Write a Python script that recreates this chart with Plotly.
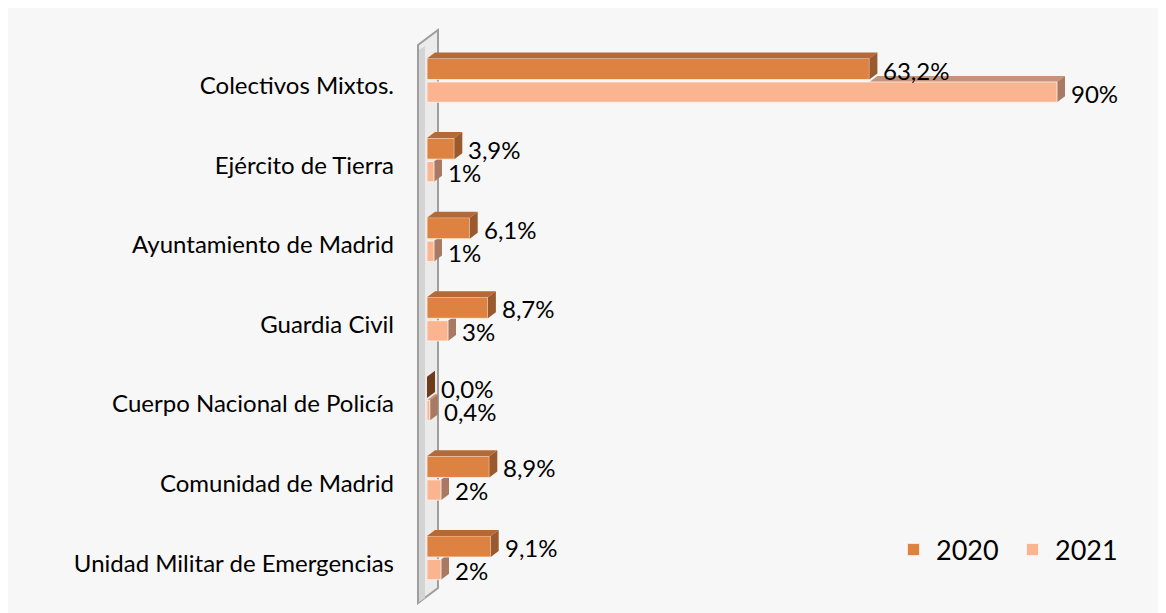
import plotly.graph_objects as go

categories = ["Colectivos Mixtos.", "Ejército de Tierra", "Ayuntamiento de Madrid",
              "Guardia Civil", "Cuerpo Nacional de Policía", "Comunidad de Madrid",
              "Unidad Militar de Emergencias"]
values_2020 = [63.2, 3.9, 6.1, 8.7, 0.0, 8.9, 9.1]
values_2021 = [90, 1, 1, 3, 0.4, 2, 2]
series_names = ["2020", "2021"]

# style / layout constants
W, H = 1166, 613
PAGE = 8                               # page margin of the html body
ML, MR, MT, MB = 419, 47, 33, 23
XMAX = 100
PX_X = (W - ML - MR) / XMAX          # pixels per x unit
PX_Y = (H - MT - MB) / 7              # pixels per category
DX = 8 / PX_X                          # 3D depth in x units
DY = 6 / PX_Y                          # 3D depth in y units
C20, C21 = "#DD8240", "#FBB490"
TOP20, SIDE20 = "#B46A36", "#9A5A2D"
TOP21, SIDE21 = "#C4937A", "#A87A63"
OFF20, W20 = -0.28, 0.265
OFF21, W21 = 0.015, 0.255
FONT = "Lato"

idx = list(range(len(categories)))

fig = go.Figure()
fig.add_trace(go.Bar(y=idx, x=values_2020, orientation="h", name=series_names[0],
                     offset=OFF20, width=W20, marker=dict(color=C20, line=dict(color="rgba(255,240,225,0.8)", width=1))))
fig.add_trace(go.Bar(y=idx, x=values_2021, orientation="h", name=series_names[1],
                     offset=OFF21, width=W21, marker=dict(color=C21, line=dict(color="rgba(255,245,235,0.8)", width=1))))

def poly(pts):
    return "M " + " L ".join(f"{x},{y}" for x, y in pts) + " Z"

# convert screen pixel positions (including page margin) to paper fractions
def px2paper_x(px):
    return (px - PAGE - ML) / (W - ML - MR)
def px2paper_y(py):
    return (H - MB - (py - PAGE)) / (H - MT - MB)

shapes = []
wall = [(418, 45), (438, 30), (438, 588), (418, 603)]
shapes.append(dict(type="path", xref="paper", yref="paper", layer="below",
                   path=poly([(px2paper_x(a), px2paper_y(b)) for a, b in wall]),
                   fillcolor="#EBEBEB", line=dict(color="#9E9E9E", width=2)))
shapes.append(dict(type="path", xref="paper", yref="paper", layer="below",
                   path=poly([(px2paper_x(a), px2paper_y(b)) for a, b in [(419, 50), (425, 46), (425, 598), (419, 602)]]),
                   fillcolor="#D4D4D4", line=dict(width=0)))

for i in idx:
    v20, v21 = values_2020[i], values_2021[i]
    # 2021 faces (behind)
    t, b = i + OFF21, i + OFF21 + W21
    if v21 > v20:
        shapes.append(dict(type="path", xref="x", yref="y", layer="below",
                           path=poly([(v20, t), (v20 + DX, t - DY), (v21 + DX, t - DY), (v21, t)]),
                           fillcolor=TOP21, line=dict(width=0)))
    shapes.append(dict(type="path", xref="x", yref="y", layer="below",
                       path=poly([(v21, t), (v21 + DX, t - DY), (v21 + DX, b - DY), (v21, b)]),
                       fillcolor=SIDE21, line=dict(width=0)))
    # 2020 faces
    t, b = i + OFF20, i + OFF20 + W20
    if v20 > 0:
        shapes.append(dict(type="path", xref="x", yref="y", layer="above",
                           path=poly([(0, t), (DX, t - DY), (v20 + DX, t - DY), (v20, t)]),
                           fillcolor=TOP20, line=dict(width=0)))
    shapes.append(dict(type="path", xref="x", yref="y", layer="above",
                       path=poly([(v20, t), (v20 + DX, t - DY), (v20 + DX, b - DY), (v20, b)]),
                       fillcolor=SIDE20 if v20 > 0 else "#6E3C1A", line=dict(width=0)))

def fmt20(v):
    return f"{v:.1f}".replace(".", ",") + "%"
def fmt21(v):
    return (f"{v:g}").replace(".", ",") + "%"

annotations = []
for i in idx:
    annotations.append(dict(x=values_2020[i], y=i + OFF20 + W20 / 2, xref="x", yref="y",
                            text=fmt20(values_2020[i]), showarrow=False, xanchor="left",
                            xshift=13, yshift=-1, borderpad=0,
                            font=dict(family=FONT, size=24, color="#000")))
    annotations.append(dict(x=values_2021[i], y=i + OFF21 + W21 / 2, xref="x", yref="y",
                            text=fmt21(values_2021[i]), showarrow=False, xanchor="left",
                            xshift=13, yshift=-1, borderpad=0,
                            font=dict(family=FONT, size=24, color="#000")))

fig.update_layout(
    width=W, height=H,
    margin=dict(l=ML, r=MR, t=MT, b=MB, autoexpand=False),
    paper_bgcolor="#F7F7F7", plot_bgcolor="rgba(0,0,0,0)",
    barmode="overlay",
    shapes=shapes, annotations=annotations,
    font=dict(family=FONT, size=24, color="#000"),
    xaxis=dict(range=[0, XMAX], visible=False, fixedrange=True),
    yaxis=dict(range=[6.5, -0.5], tickvals=idx, ticktext=categories, showgrid=False,
               zeroline=False, showline=False, ticks="", ticklabelstandoff=32,
               ticklabelshift=-5, tickfont=dict(family=FONT, size=24, color="#000")),
    legend=dict(orientation="h", x=px2paper_x(891), y=px2paper_y(550), xanchor="left", yanchor="middle",
                font=dict(family=FONT, size=27, color="#000"), bgcolor="rgba(0,0,0,0)",
                traceorder="normal", itemwidth=35, entrywidth=69, entrywidthmode="pixels"),
    showlegend=True,
)

fig.write_html("out.html")
